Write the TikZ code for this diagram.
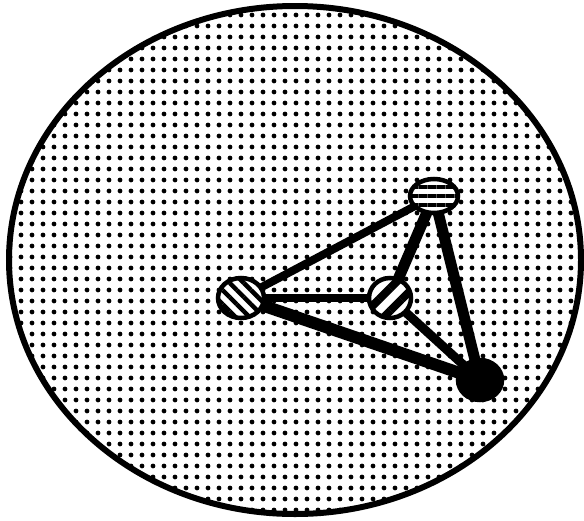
\documentclass[tikz,border=0pt]{standalone}
\usepackage{tikz}
\usetikzlibrary{shapes.geometric,patterns.meta,backgrounds}

\begin{document}
\begin{tikzpicture}[x=1pt,y=-1pt,
  site/.style={ellipse, draw, line width=4.5pt, inner sep=0pt, preaction={fill=white}},
  bond/.style={line width=9pt}]
\useasboundingbox (0,0) rectangle (584,520);
\node[site, minimum width=48pt, minimum height=34pt,
  pattern={Lines[angle=0,distance=9pt,line width=4.5pt]}] (top) at (434,196) {};
\node[site, minimum width=46pt, minimum height=40pt,
  pattern={Lines[angle=-45,distance=10pt,line width=4.5pt]}] (left) at (241,298) {};
\node[site, minimum width=42pt, minimum height=40pt,
  pattern={Lines[angle=45,distance=16pt,line width=8pt]}] (mid) at (390,298) {};
\node[site, fill=black, preaction={}, minimum width=44pt, minimum height=40pt] (bot) at (480,380) {};
\begin{pgfonlayer}{background}
\draw[line width=6pt, pattern={Dots[distance=10.5pt,radius=2.5pt]}] (295,260) ellipse (286 and 254);
\draw[bond, line width=8pt] (left.center) -- (top.center);
\draw[bond, line width=8pt] (left.center) -- (mid.center);
\draw[bond, line width=11pt] (mid.center) -- (top.center);
\draw[bond, line width=11pt] (top.center) -- (bot.center);
\draw[bond, line width=12pt] (left.center) -- (bot.center);
\draw[bond] (mid.center) -- (bot.center);
\end{pgfonlayer}
\end{tikzpicture}
\end{document}
